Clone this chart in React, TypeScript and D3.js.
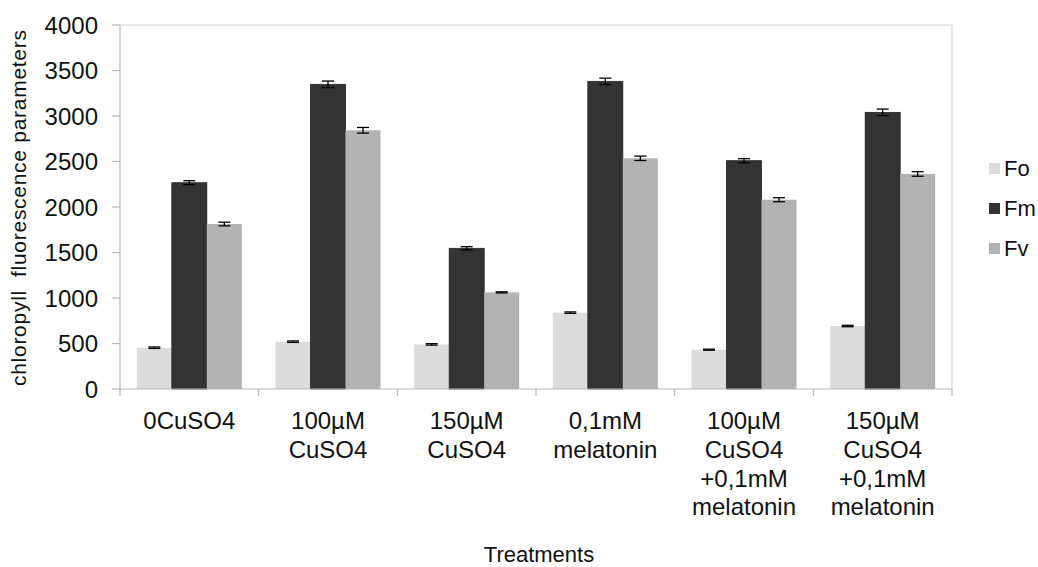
import React from "react";
import * as d3 from "d3";

const categories: string[] = [
  "0CuSO4",
  "100µM\nCuSO4",
  "150µM\nCuSO4",
  "0,1mM\nmelatonin",
  "100µM\nCuSO4\n+0,1mM\nmelatonin",
  "150µM\nCuSO4\n+0,1mM\nmelatonin",
];
const seriesNames: string[] = ["Fo", "Fm", "Fv"];
const foValues: number[] = [454, 520, 490, 839, 432, 692];
const fmValues: number[] = [2267, 3348, 1546, 3381, 2509, 3040];
const fvValues: number[] = [1813, 2843, 1062, 2535, 2080, 2363];
const foErrors: number[] = [8, 8, 8, 8, 6, 8];
const fmErrors: number[] = [22, 36, 18, 35, 22, 36];
const fvErrors: number[] = [20, 31, 6, 24, 22, 25];
const yTicks: number[] = [0, 500, 1000, 1500, 2000, 2500, 3000, 3500, 4000];
const colors: string[] = ["#dcdcdc", "#333333", "url(#fvTex)"];
const legendColors: string[] = ["#dcdcdc", "#333333", "#b2b2b2"];

const W = 1038;
const H = 567;
const left = 120;
const right = 952;
const top = 25;
const bottom = 389;
const FONT = "'Liberation Sans', Arial, sans-serif";

export default function App() {
  const values = [foValues, fmValues, fvValues];
  const errors = [foErrors, fmErrors, fvErrors];
  const x0 = d3.scaleBand<string>().domain(categories).range([left, right]).padding(0);
  const groupW = 105;
  const x1 = d3.scaleBand<string>().domain(seriesNames).range([0, groupW]).padding(0);
  const y = d3.scaleLinear().domain([0, 4000]).range([bottom, top]);
  const off = (x0.bandwidth() - groupW) / 2;

  return (
    <div style={{ position: "absolute", left: 0, top: 0 }}>
      <svg width={W} height={H} style={{ display: "block", fontFamily: FONT }}>
        <defs>
          <pattern id="fvTex" width={4} height={4} patternUnits="userSpaceOnUse">
            <rect width={4} height={4} fill="#b3b3b3" />
            <rect x={0} y={0} width={1} height={1} fill="#a6a6a6" />
            <rect x={2} y={2} width={1} height={1} fill="#a9a9a9" />
            <rect x={3} y={1} width={1} height={1} fill="#bdbdbd" />
            <rect x={1} y={3} width={1} height={1} fill="#bbbbbb" />
          </pattern>
        </defs>
        <rect x={0} y={0} width={W} height={H} fill="#fff" />
        {/* plot border */}
        <line x1={left} x2={right} y1={top} y2={top} stroke="#d4d4d4" strokeWidth={1.2} />
        <line x1={right} x2={right} y1={top} y2={bottom} stroke="#d4d4d4" strokeWidth={1.2} />
        {/* bars */}
        {seriesNames.map((s, si) =>
          categories.map((c, ci) => {
            const v = values[si][ci];
            const bx = (x0(c) as number) + off + (x1(s) as number);
            return (
              <rect
                key={s + ci}
                x={bx}
                y={y(v)}
                width={x1.bandwidth()}
                height={y(0) - y(v)}
                fill={colors[si]}
                stroke={si === 1 ? "#262626" : "none"}
                strokeWidth={si === 1 ? 0.8 : 0}
              />
            );
          })
        )}
        {/* error bars */}
        {seriesNames.map((s, si) =>
          categories.map((c, ci) => {
            const v = values[si][ci];
            const e = errors[si][ci];
            const cx = (x0(c) as number) + off + (x1(s) as number) + x1.bandwidth() / 2;
            return (
              <g key={"e" + s + ci} stroke="#000" strokeWidth={1.3}>
                <line x1={cx} x2={cx} y1={y(v + e)} y2={y(v - e)} />
                <line x1={cx - 6} x2={cx + 6} y1={y(v + e)} y2={y(v + e)} />
                <line x1={cx - 6} x2={cx + 6} y1={y(v - e)} y2={y(v - e)} />
              </g>
            );
          })
        )}
        {/* axes */}
        <line x1={left} x2={left} y1={top} y2={bottom} stroke="#b8b8b8" strokeWidth={1.2} />
        <line x1={left} x2={right} y1={bottom} y2={bottom} stroke="#b8b8b8" strokeWidth={1.2} />
        {yTicks.map((t) => (
          <g key={"yt" + t}>
            <line x1={left - 8} x2={left} y1={y(t)} y2={y(t)} stroke="#b8b8b8" strokeWidth={1.2} />
            <text x={98} y={y(t)} dy="0.36em" textAnchor="end" fontSize={24} fill="#111">
              {t}
            </text>
          </g>
        ))}
        {categories.map((c, i) => (
          <line
            key={"xt" + i}
            x1={x0(c) as number}
            x2={x0(c) as number}
            y1={bottom}
            y2={bottom + 7}
            stroke="#b8b8b8"
            strokeWidth={1.2}
          />
        ))}
        <line x1={right} x2={right} y1={bottom} y2={bottom + 7} stroke="#b8b8b8" strokeWidth={1.2} />
        {categories.map((c, i) => {
          const cx = (x0(c) as number) + x0.bandwidth() / 2;
          return (
            <text key={"xl" + i} x={cx} y={429} textAnchor="middle" fontSize={24} fill="#111">
              {c.split("\n").map((ln, li) => (
                <tspan key={li} x={cx} y={429 + li * 28.8}>
                  {ln}
                </tspan>
              ))}
            </text>
          );
        })}
        {/* axis titles */}
        <text x={539} y={562} textAnchor="middle" fontSize={22} fill="#111">
          Treatments
        </text>
        <text
          transform={`translate(26,208) rotate(-90)`}
          textAnchor="middle"
          fontSize={21}
          fill="#111"
          textLength={356}
          lengthAdjust="spacing"
          style={{ whiteSpace: "pre" }}
        >
          {"chloropyll  fluorescence parameters"}
        </text>
        {/* legend */}
        {seriesNames.map((s, i) => (
          <g key={"lg" + s} transform={`translate(989,${163 + i * 40})`}>
            <rect x={0} y={0} width={11} height={11} fill={legendColors[i]} />
            <text x={15} y={5.5} dy="0.36em" fontSize={22} fill="#111">
              {s}
            </text>
          </g>
        ))}
      </svg>
    </div>
  );
}
